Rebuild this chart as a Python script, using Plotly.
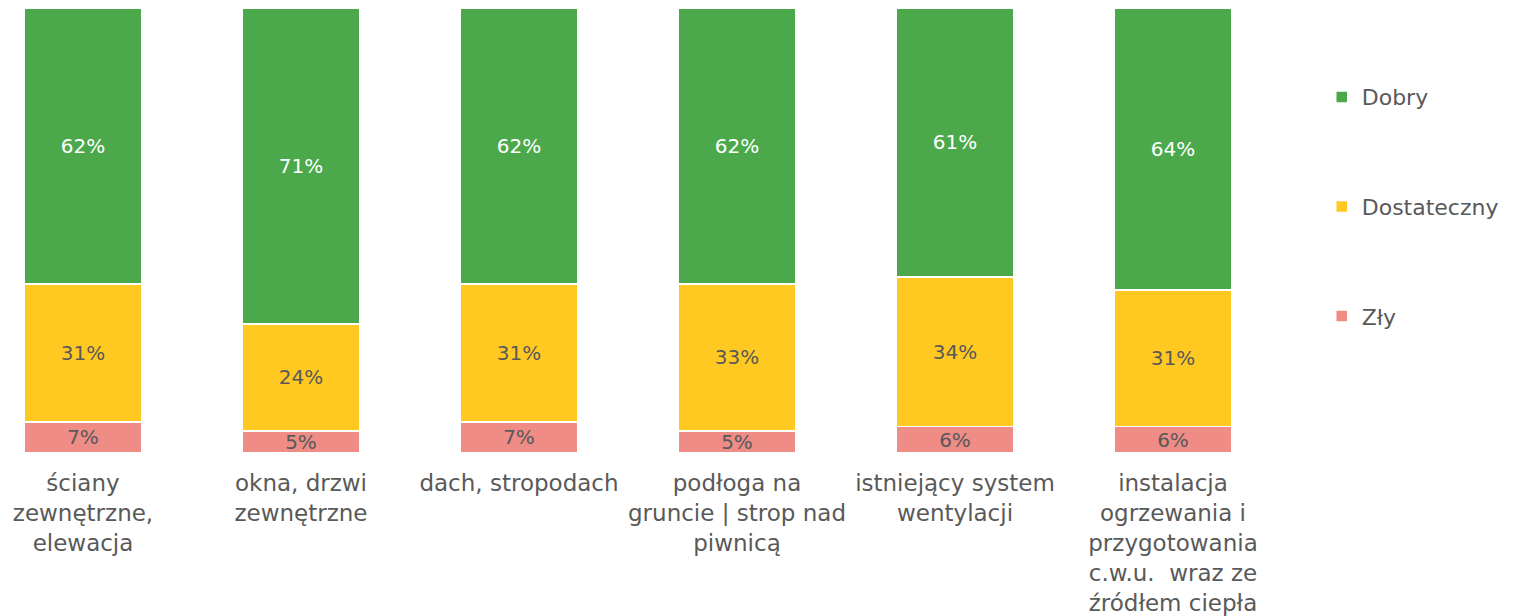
import plotly.graph_objects as go

categories = [
    "ściany<br>zewnętrzne,<br>elewacja",
    "okna, drzwi<br>zewnętrzne",
    "dach, stropodach",
    "podłoga na<br>gruncie | strop nad<br>piwnicą",
    "istniejący system<br>wentylacji",
    "instalacja<br>ogrzewania i<br>przygotowania<br>c.w.u.  wraz ze<br>źródłem ciepła",
]
zly = [7, 5, 7, 5, 6, 6]
dostateczny = [31, 24, 31, 33, 34, 31]
dobry = [62, 71, 62, 62, 61, 64]

series = [
    ("Zły", zly, "#EF8C86", "#595959", 3),
    ("Dostateczny", dostateczny, "#FFC922", "#595959", 2),
    ("Dobry", dobry, "#4BA94B", "#FFFFFF", 1),
]

FONT = "DejaVu Sans"
fig = go.Figure()
for name, vals, color, tcol, rank in series:
    fig.add_trace(go.Bar(
        x=categories, y=vals, name=name,
        marker=dict(color=color, line=dict(color="#FFFFFF", width=1.5)),
        text=[f"{v}%" for v in vals],
        textposition="inside", insidetextanchor="middle",
        constraintext="none",
        textfont=dict(family=FONT, size=20, color=tcol),
        width=0.54,
        legendgroup=name, legendrank=rank,
        hoverinfo="skip",
    ))

fig.update_layout(
    width=1505, height=608,
    barmode="stack", barnorm="percent",
    plot_bgcolor="white", paper_bgcolor="white",
    margin=dict(l=0, r=243, t=0, b=163, autoexpand=False),
    font=dict(family=FONT, color="#595959"),
    showlegend=True,
    legend=dict(
        traceorder="grouped", tracegroupgap=78,
        x=1.041, xanchor="left", y=0.847, yanchor="top",
        font=dict(family=FONT, size=22, color="#595959"),
        itemclick=False,
    ),
    uniformtext=dict(mode="show", minsize=20),
)
fig.update_xaxes(
    type="category", range=[-0.344, 5.445],
    showline=False, showgrid=False, ticks="", zeroline=False,
    tickfont=dict(family=FONT, size=23, color="#595959"),
    tickangle=0,
    ticklabelstandoff=14, automargin=False,
)
fig.update_yaxes(visible=False, range=[0, 100], showgrid=False)

fig.write_html("out.html")
